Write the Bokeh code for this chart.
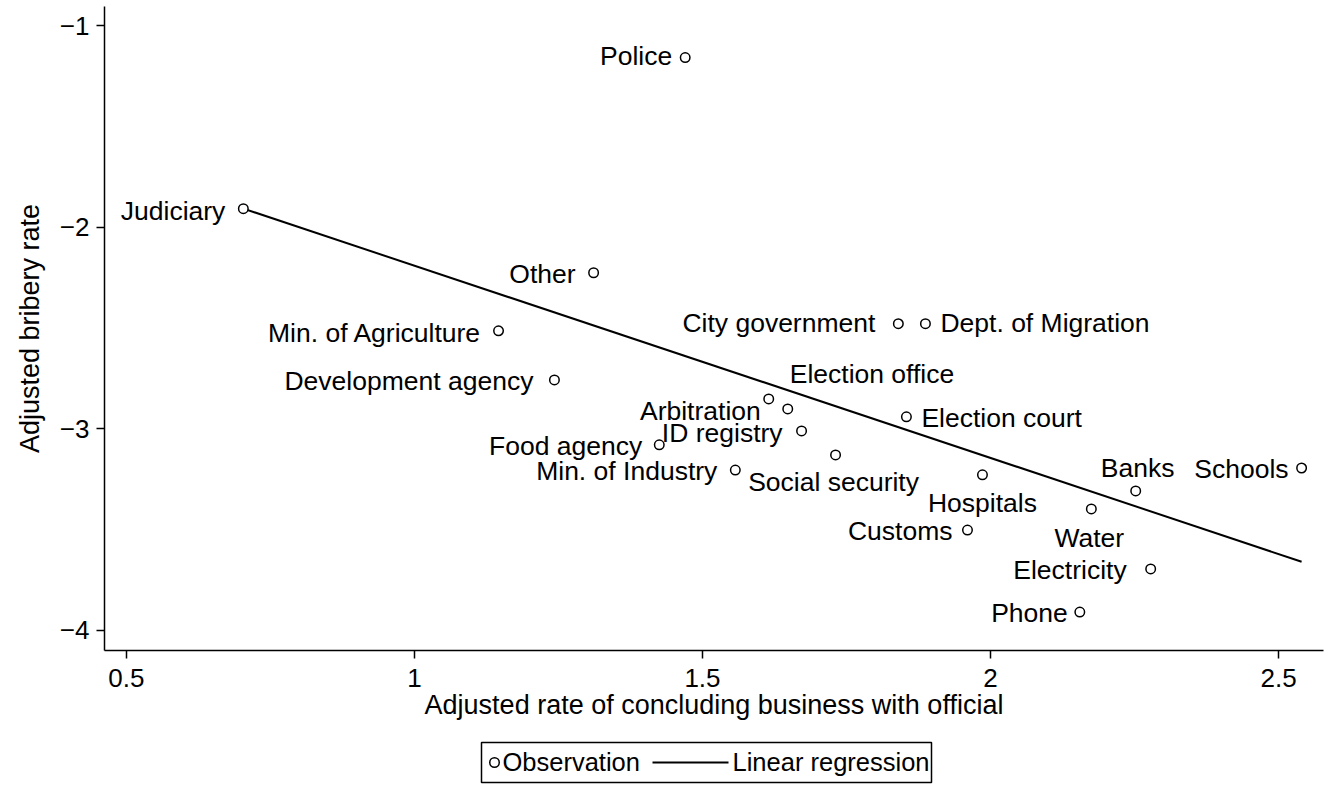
import numpy as np
from bokeh.plotting import figure
from bokeh.models import ColumnDataSource, Range1d, FixedTicker
from bokeh.layouts import column
from bokeh.embed import file_html
from bokeh.resources import INLINE
from bokeh.core.properties import value

# ---------------- data ----------------
agencies = [
    "Police", "Judiciary", "Other", "Min. of Agriculture", "Development agency",
    "City government", "Dept. of Migration", "Election office", "Arbitration",
    "Election court", "ID registry", "Food agency", "Min. of Industry",
    "Social security", "Hospitals", "Schools", "Banks", "Water", "Customs",
    "Electricity", "Phone",
]
business_rate = [
    1.470, 0.703, 1.311, 1.146, 1.243,
    1.840, 1.887, 1.615, 1.648,
    1.854, 1.672, 1.425, 1.557,
    1.731, 1.986, 2.540, 2.252, 2.175, 1.960,
    2.278, 2.155,
]
bribery_rate = [
    -1.159, -1.909, -2.227, -2.515, -2.759,
    -2.480, -2.480, -2.853, -2.903,
    -2.942, -3.012, -3.081, -3.206,
    -3.131, -3.230, -3.196, -3.310, -3.399, -3.504,
    -3.697, -3.911,
]
# fitted linear regression (intercept, slope)
fit_intercept = -1.238
fit_slope = -0.954

x_ticks = [0.5, 1.0, 1.5, 2.0, 2.5]
x_tick_labels = ["0.5", "1", "1.5", "2", "2.5"]
y_ticks = [-1.0, -2.0, -3.0, -4.0]
y_tick_labels = ["\u22121", "\u22122", "\u22123", "\u22124"]

x_title = "Adjusted rate of concluding business with official"
y_title = "Adjusted bribery rate"
legend_labels = ["Observation", "Linear regression"]

# ---------------- label placement (style, screen px) ----------------
label_style = {
    "Police": ("right", -13, 8),
    "Judiciary": ("right", -18, 12),
    "Other": ("right", -18, 11),
    "Min. of Agriculture": ("right", -17, 12),
    "Development agency": ("right", -21, 11),
    "City government": ("right", -23, 9),
    "Dept. of Migration": ("left", 15, 9),
    "Election office": ("left", 21, -15),
    "Arbitration": ("right", -27, 12),
    "Election court": ("left", 15, 11),
    "ID registry": ("right", -19, 12),
    "Food agency": ("right", -17, 11),
    "Min. of Industry": ("right", -18, 11),
    "Social security": ("center", -2, 37),
    "Hospitals": ("center", 0, 38),
    "Schools": ("right", -13, 11),
    "Banks": ("center", 2, -13),
    "Water": ("center", -2, 39),
    "Customs": ("right", -15, 11),
    "Electricity": ("right", -24, 11),
    "Phone": ("right", -12, 11),
}
BASE_FIX = -10  # renderer baseline correction

FONT = "Liberation Sans"
FS = "26.5px"
TITLE_FS = "27px"

src = ColumnDataSource(dict(
    x=business_rate,
    y=bribery_rate,
    name=agencies,
    align=[label_style[a][0] for a in agencies],
    dx=[label_style[a][1] for a in agencies],
    dy=[label_style[a][2] + BASE_FIX for a in agencies],
))

fit_x = np.array([min(business_rate), max(business_rate)])
fit_y = fit_intercept + fit_slope * fit_x

p = figure(
    frame_width=1219, frame_height=644,
    x_range=Range1d(0.462, 2.578), y_range=Range1d(-4.1017, -0.9057),
    output_backend="svg", toolbar_location=None, title=None,
    min_border_left=104, min_border_right=4, min_border_top=6, min_border_bottom=90,
    background_fill_color="white", border_fill_color="white",
)
p.outline_line_color = None
p.grid.visible = False

p.line(fit_x, fit_y, line_color="black", line_width=2)
p.scatter("x", "y", source=src, marker="circle", size=9.5,
          fill_color="white", line_color="black", line_width=1.5)
p.text("x", "y", text="name", source=src, x_offset="dx", y_offset="dy",
       text_align="align", text_baseline="alphabetic",
       text_font=value(FONT), text_font_size=FS, text_color="black")

for ax in (p.xaxis[0], p.yaxis[0]):
    ax.axis_line_color = "black"
    ax.axis_line_width = 1.5
    ax.major_tick_line_color = "black"
    ax.major_tick_line_width = 1.5
    ax.major_tick_out = 8
    ax.major_tick_in = 0
    ax.minor_tick_line_color = None
    ax.major_label_text_font = FONT
    ax.major_label_text_font_size = "26px"
    ax.major_label_text_color = "black"
    ax.axis_label_text_font = FONT
    ax.axis_label_text_font_size = TITLE_FS
    ax.axis_label_text_font_style = "normal"
    ax.axis_label_text_color = "black"

p.xaxis.ticker = FixedTicker(ticks=x_ticks)
p.xaxis.major_label_overrides = dict(zip(x_ticks, x_tick_labels))
p.xaxis.axis_label = x_title
p.xaxis.major_label_standoff = 10
p.xaxis.axis_label_standoff = 0

p.yaxis.ticker = FixedTicker(ticks=y_ticks)
p.yaxis.major_label_overrides = dict(zip(y_ticks, y_tick_labels))
p.yaxis.axis_label = y_title
p.yaxis.major_label_standoff = 7
p.yaxis.axis_label_standoff = 12

# ---------------- legend panel (coordinates in page pixels) ----------------
LH = 45
leg = figure(
    frame_width=1219, frame_height=LH,
    x_range=Range1d(104, 1323), y_range=Range1d(LH, 0),
    output_backend="svg", toolbar_location=None, title=None,
    min_border_left=104, min_border_right=4, min_border_top=0, min_border_bottom=0,
)
leg.axis.visible = False
leg.grid.visible = False
leg.outline_line_color = None
leg.quad(left=[481], right=[931], top=[2], bottom=[42],
         fill_color=None, line_color="black", line_width=1.5)
leg.scatter([494], [22], marker="circle", size=9.5,
            fill_color="white", line_color="black", line_width=1.5)
leg.line([652, 728], [22, 22], line_color="black", line_width=2)
leg.text([502, 732], [31 + BASE_FIX, 31 + BASE_FIX], text=legend_labels,
         text_align="left", text_baseline="alphabetic", text_font=value(FONT),
         text_font_size="25.5px", text_color="black")

layout = column(p, leg, spacing=0)
open("out.html", "w").write(file_html(layout, INLINE))
